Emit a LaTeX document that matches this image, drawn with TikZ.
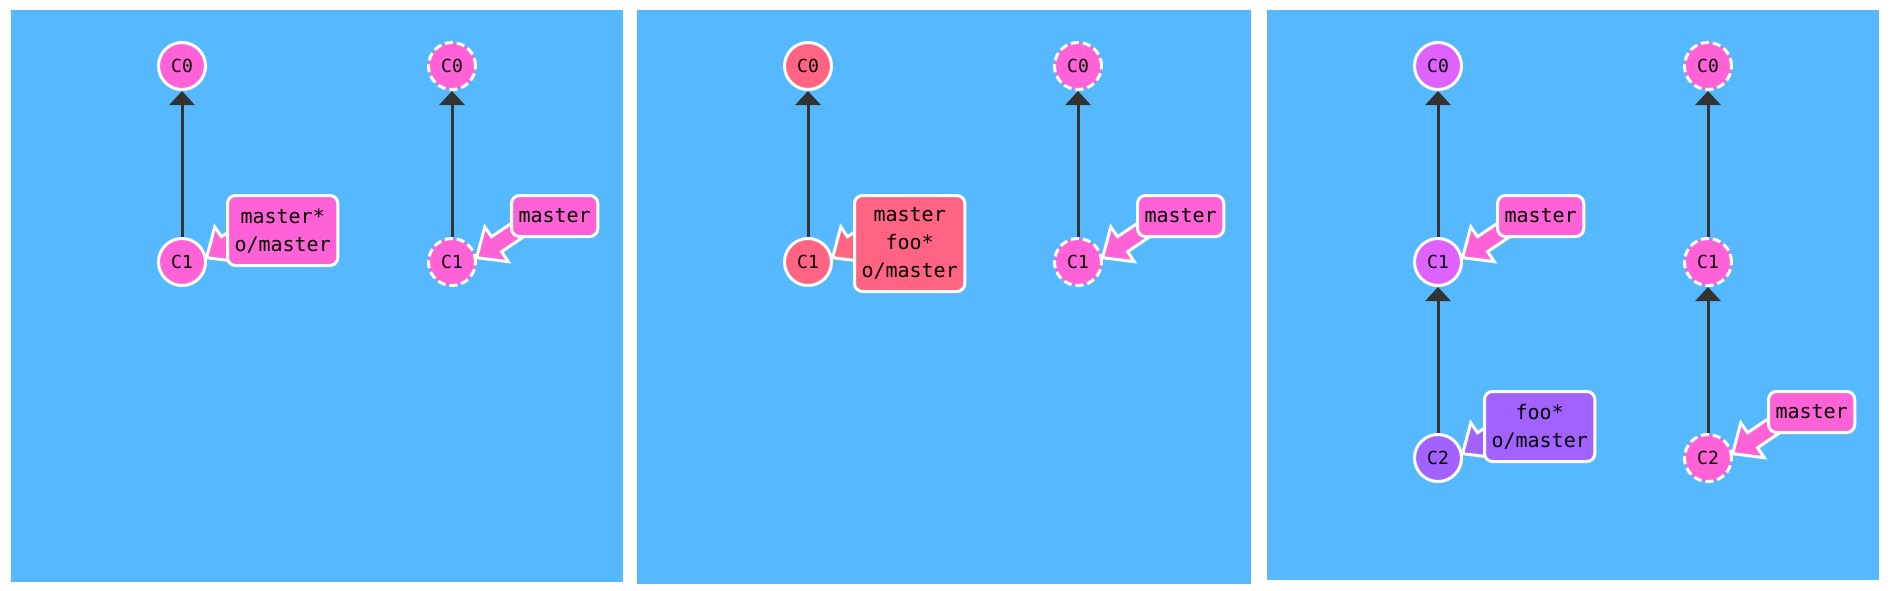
\documentclass[tikz,border=0pt]{standalone}
\usepackage{fontspec}
\setmonofont{DejaVu Sans Mono}
\usetikzlibrary{arrows.meta,calc}
\definecolor{bgblue}{HTML}{56B9FF}
\definecolor{gitpink}{HTML}{FF62D6}
\definecolor{gitred}{HTML}{FF6482}
\definecolor{gitviolet}{HTML}{DE62FF}
\definecolor{gitpurple}{HTML}{A262FF}
\definecolor{linkgray}{HTML}{333333}
\tikzstyle{node:commit}=[circle,draw=white,line width=1.5pt,minimum size=23.5pt,inner sep=0pt,font=\ttfamily\fontsize{9}{11}\selectfont]
\tikzstyle{node:remote}=[node:commit,dash pattern=on 4pt off 2pt]
\tikzstyle{node:branch}=[draw=white,line width=1.5pt,rounded corners=4pt,anchor=north west,inner xsep=3.5pt,inner ysep=0pt,align=center,font=\ttfamily\fontsize{10}{14}\selectfont]
\tikzstyle{node:oneline}=[node:branch,minimum height=20.5pt]
\tikzstyle{node:twoline}=[node:branch,minimum height=35pt]
\tikzstyle{node:threeline}=[node:branch,minimum height=48pt]
\tikzstyle{draw:parent}=[-{Triangle[width=12.5pt,length=7pt]},line width=1.5pt,linkgray]
\tikzstyle{draw:pointer}=[draw=white,line width=1.5pt]
% fat arrow from a branch label to a commit
\newcommand{\branchptr}[2]{%
  \draw[draw:pointer,fill=#2] ($(#1.10)+(34:24)+(124:9)$) -- ($(#1.10)+(34:66)+(124:9)$)
    -- ($(#1.10)+(34:66)+(-56:9)$) -- ($(#1.10)+(34:24)+(-56:9)$)
    -- ($(#1.10)+(34:24)+(-56:21)$) -- (#1.10) -- ($(#1.10)+(34:24)+(124:21)$) -- cycle;}

\begin{document}
\begin{tikzpicture}[x=0.5pt, y=0.5pt]
        \useasboundingbox[fill=white] (0,0) rectangle (1890,-590);

        % Panels
        \fill[bgblue] (11,-10) rectangle (623,-582);
        \fill[bgblue] (637,-10) rectangle (1251,-584);
        \fill[bgblue] (1267,-10) rectangle (1879,-580);

        % Panel 1
        \node[node:commit, fill=gitpink] (c0a) at (182,-66) {C0};
        \node[node:commit, fill=gitpink] (c1a) at (182,-262) {C1};
        \node[node:remote, fill=gitpink] (c0b) at (452,-66) {C0};
        \node[node:remote, fill=gitpink] (c1b) at (452,-262) {C1};

        % Panel 2
        \node[node:commit, fill=gitred] (c0c) at (808,-66) {C0};
        \node[node:commit, fill=gitred] (c1c) at (808,-262) {C1};
        \node[node:remote, fill=gitpink] (c0d) at (1078,-66) {C0};
        \node[node:remote, fill=gitpink] (c1d) at (1078,-262) {C1};

        % Panel 3
        \node[node:commit, fill=gitviolet] (c0e) at (1438,-66) {C0};
        \node[node:commit, fill=gitviolet] (c1e) at (1438,-262) {C1};
        \node[node:commit, fill=gitpurple] (c2e) at (1438,-458) {C2};
        \node[node:remote, fill=gitpink] (c0f) at (1708,-66) {C0};
        \node[node:remote, fill=gitpink] (c1f) at (1708,-262) {C1};
        \node[node:remote, fill=gitpink] (c2f) at (1708,-458) {C2};

        % Parent links
        \draw[draw:parent] (c1a) -- (c0a);
        \draw[draw:parent] (c1b) -- (c0b);
        \draw[draw:parent] (c1c) -- (c0c);
        \draw[draw:parent] (c1d) -- (c0d);
        \draw[draw:parent] (c1e) -- (c0e);
        \draw[draw:parent] (c2e) -- (c1e);
        \draw[draw:parent] (c1f) -- (c0f);
        \draw[draw:parent] (c2f) -- (c1f);

        % Branch pointers
        \branchptr{c1a}{gitpink}
        \branchptr{c1b}{gitpink}
        \branchptr{c1c}{gitred}
        \branchptr{c1d}{gitpink}
        \branchptr{c1e}{gitpink}
        \branchptr{c2e}{gitpurple}
        \branchptr{c2f}{gitpink}

        % Branch labels
        \node[node:twoline, fill=gitpink] (ba) at (226,-194) {master*\\o/master};
        \node[node:oneline, fill=gitpink] (bb) at (510,-194) {master};
        \node[node:threeline, fill=gitred] (bc) at (853,-194) {master\\foo*\\o/master};
        \node[node:oneline, fill=gitpink] (bd) at (1136,-194) {master};
        \node[node:oneline, fill=gitpink] (be) at (1496,-194) {master};
        \node[node:twoline, fill=gitpurple] (bf) at (1483,-390) {foo*\\o/master};
        \node[node:oneline, fill=gitpink] (bg) at (1767,-390) {master};

    \end{tikzpicture}
\end{document}
